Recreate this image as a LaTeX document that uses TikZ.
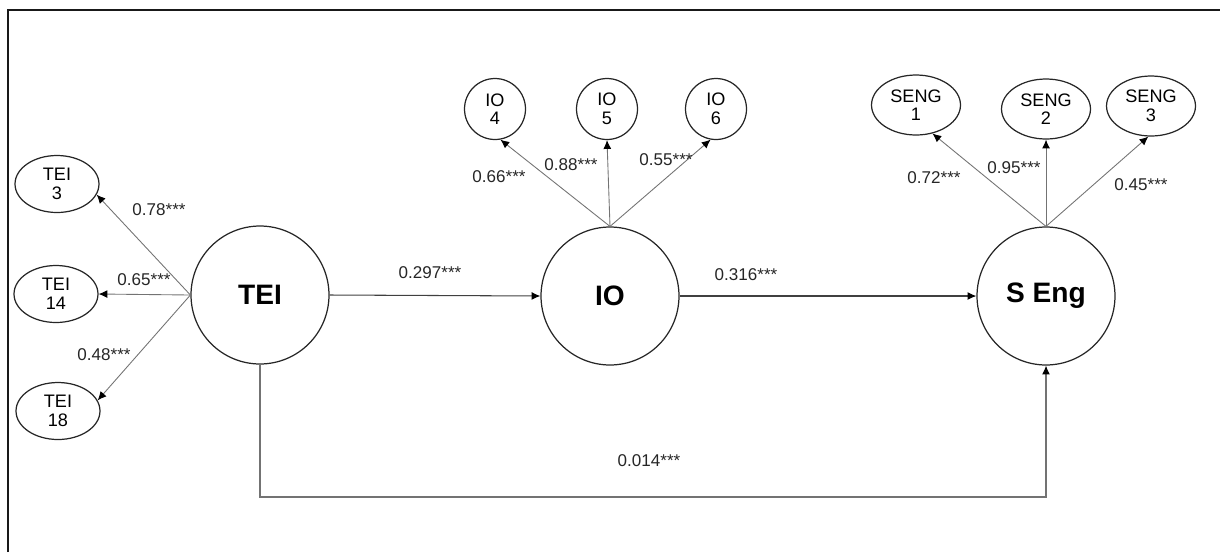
\documentclass[tikz,border=0pt]{standalone}
\usepackage{fontspec}
\setmainfont{Liberation Sans}
\usetikzlibrary{arrows.meta,shapes.geometric}
\begin{document}
\begin{tikzpicture}[x=0.02cm,y=-0.02cm,
  latent/.style={circle,draw=black!85,line width=0.7pt,minimum size=2.76cm,inner sep=0pt,font=\fontsize{16}{18}\selectfont\bfseries},
  teiell/.style={ellipse,draw=black!85,line width=0.7pt,minimum width=1.68cm,minimum height=1.14cm,inner sep=0pt,align=center,font=\fontsize{10.3}{10.6}\selectfont},
  sengell/.style={ellipse,draw=black!85,line width=0.7pt,minimum width=1.78cm,minimum height=1.2cm,inner sep=0pt,align=center,font=\fontsize{10.3}{10.6}\selectfont},
  iocirc/.style={circle,draw=black!85,line width=0.7pt,minimum size=1.22cm,inner sep=0pt,align=center,font=\fontsize{10.3}{10.6}\selectfont},
  load/.style={-{Latex[length=5pt,width=4.5pt,color=black]},draw=black!55,line width=0.5pt},
  pathline/.style={-{Latex[length=5pt,width=4.5pt,color=black]},draw=black!75,line width=0.6pt},
  coef/.style={font=\fontsize{9.7}{11}\selectfont,text=black!85,inner sep=0pt}
]
\useasboundingbox (0,0) rectangle (1220,552);
% frame
\draw[line width=1.5pt,black!90] (8,552) -- (8,10) -- (1220,10);

% latent variables
\node[latent] (TEI) at (260,295) {TEI};
\node[latent] (IO) at (610,296) {IO};
\node[latent] (SEng) at (1046,296) {S Eng};

% TEI indicators
\node[teiell] (tei3) at (57,184) {TEI\\3};
\node[teiell] (tei14) at (56,294) {TEI\\14};
\node[teiell] (tei18) at (58,411) {TEI\\18};

% IO indicators
\node[iocirc] (io4) at (495,109) {IO\\4};
\node[iocirc] (io5) at (607,109) {IO\\5};
\node[iocirc] (io6) at (716,109) {IO\\6};

% SENG indicators
\node[sengell] (seng1) at (916,105) {SENG\\1};
\node[sengell] (seng2) at (1046,109) {SENG\\2};
\node[sengell] (seng3) at (1151,106) {SENG\\3};

% loadings
\draw[load] (TEI.west) -- (tei3.-15);
\draw[load] (TEI.west) -- (tei14.east);
\draw[load] (TEI.west) -- (tei18.15);
\draw[load] (IO.north) -- (io4.-80);
\draw[load] (IO.north) -- (io5.south);
\draw[load] (IO.north) -- (io6.-100);
\draw[load] (SEng.north) -- (seng1.-60);
\draw[load] (SEng.north) -- (seng2.south);
\draw[load] (SEng.north) -- (seng3.-95);

% structural paths
\draw[pathline] (TEI.east) -- (IO.west);
\draw[pathline] (IO.east) -- (SEng.west);
\coordinate (bl) at (260,497);
\coordinate (br) at (1046,497);
\draw[pathline,draw=black!55] (TEI.south) -- (bl) -- (br) -- (SEng.south);

% coefficients
\node[coef] (c1) at (159,210) {0.78***};
\node[coef] (c2) at (144,280) {0.65***};
\node[coef] (c3) at (104,355) {0.48***};
\node[coef] (c4) at (499,177) {0.66***};
\node[coef] (c5) at (571,165) {0.88***};
\node[coef] (c6) at (666,160) {0.55***};
\node[coef] (c7) at (934,178) {0.72***};
\node[coef] (c8) at (1014,168) {0.95***};
\node[coef] (c9) at (1141,185) {0.45***};
\node[coef] (c10) at (430,273) {0.297***};
\node[coef] (c11) at (746,275) {0.316***};
\node[coef] (c12) at (649,461) {0.014***};
\end{tikzpicture}
\end{document}
